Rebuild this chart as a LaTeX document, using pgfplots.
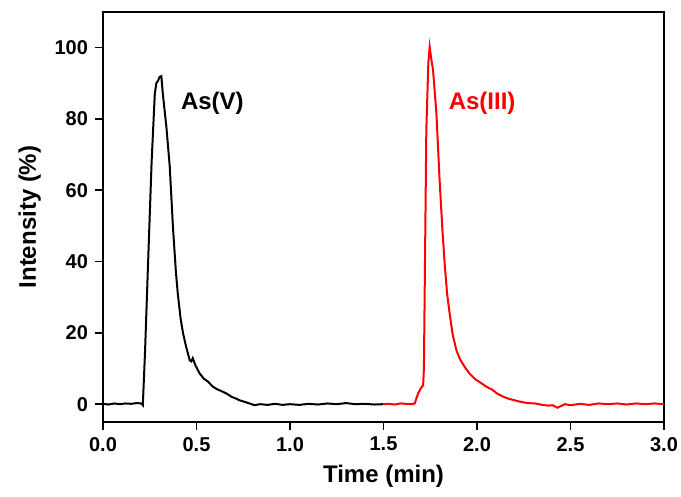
\documentclass[border=0pt]{standalone}
\usepackage{fontspec}
\setmainfont{Liberation Sans}
\usepackage{pgfplots}
\pgfplotsset{compat=1.18}

% As(V) trace, 0 - 1.5 min
\pgfplotstableread{
t y
0.00 0.1
0.03 -0.1
0.06 0.2
0.09 0.0
0.12 0.2
0.15 0.1
0.18 0.3
0.205 0.2
0.213 -0.3
0.225 15
0.24 38
0.26 68
0.277 87
0.285 90
0.295 90.8
0.303 91.8
0.312 92
0.320 87
0.339 77.8
0.357 66.6
0.374 49.7
0.390 37
0.400 31
0.415 24
0.428 19.9
0.445 16
0.464 12.3
0.472 12.0
0.480 12.9
0.495 10.8
0.517 8.6
0.540 7.1
0.560 6.4
0.588 4.9
0.610 4.2
0.640 3.5
0.660 3.0
0.690 2.0
0.710 1.6
0.730 1.1
0.760 0.6
0.790 0.1
0.810 -0.3
0.840 0.0
0.880 -0.2
0.920 0.1
0.960 -0.2
1.000 0.0
1.050 -0.2
1.100 0.1
1.150 -0.1
1.200 0.2
1.250 0.0
1.300 0.3
1.350 0.0
1.400 0.1
1.450 -0.1
1.500 0.0
}\asv

% As(III) trace, 1.5 - 3.0 min
\pgfplotstableread{
t y
1.500 0.0
1.530 0.1
1.560 -0.1
1.590 0.2
1.620 0.1
1.650 0.0
1.667 0.2
1.675 1.5
1.685 3.0
1.700 4.5
1.712 5.3
1.716 10
1.720 30
1.729 76.9
1.740 96
1.747 100.2
1.755 97
1.765 93.7
1.783 81.5
1.800 62.8
1.815 49
1.827 39.5
1.840 31
1.854 25.4
1.870 19.5
1.890 15.1
1.910 12.5
1.935 10.4
1.960 8.6
1.990 7.0
2.020 6.0
2.050 4.9
2.080 4.1
2.110 2.9
2.140 2.1
2.170 1.5
2.200 1.1
2.230 0.7
2.270 0.3
2.310 0.2
2.350 -0.2
2.380 -0.4
2.405 -0.3
2.430 -1.0
2.450 -0.5
2.470 0.0
2.500 -0.3
2.550 0.1
2.600 -0.2
2.650 0.2
2.700 0.0
2.750 0.2
2.800 -0.1
2.850 0.2
2.900 0.0
2.950 0.2
3.000 0.0
}\asiii

\begin{document}
\begin{tikzpicture}
\begin{axis}[
    at={(0,0)}, anchor=south west,
    scale only axis,
    width=280.5pt, height=205pt,
    xmin=0, xmax=3, ymin=-5, ymax=110,
    xtick={0,0.5,...,3.0},
    ytick={0,20,...,100},
    xtick pos=left, ytick pos=left,
    tick align=outside,
    major tick length=4pt,
    axis line style={line width=1pt},
    every tick/.style={line width=0.8pt, black},
    tick label style={font=\fontsize{10}{12}\selectfont\bfseries},
    /pgf/number format/assume math mode=true,
    xticklabel style={/pgf/number format/.cd, fixed, fixed zerofill, precision=1},
    yticklabel style={/pgf/number format/.cd, fixed, precision=0},
    xlabel={Time (min)},
    ylabel={Intensity (\%)},
    label style={font=\fontsize{12}{14}\selectfont\bfseries},
    clip=false,
]
\addplot[black, line width=1pt] table[x=t, y=y] {\asv};
\addplot[red, line width=1pt] table[x=t, y=y] {\asiii};
\node[anchor=west, inner sep=0pt, font=\fontsize{12}{14}\selectfont\bfseries] at (axis cs:0.415,84.5) {As(V)};
\node[anchor=west, inner sep=0pt, font=\fontsize{12}{14}\selectfont\bfseries, text=red] at (axis cs:1.847,84.5) {As(III)};
\end{axis}
\pgfresetboundingbox
\path (-51.5pt,-37.5pt) rectangle (289pt,211pt);
\end{tikzpicture}
\end{document}
